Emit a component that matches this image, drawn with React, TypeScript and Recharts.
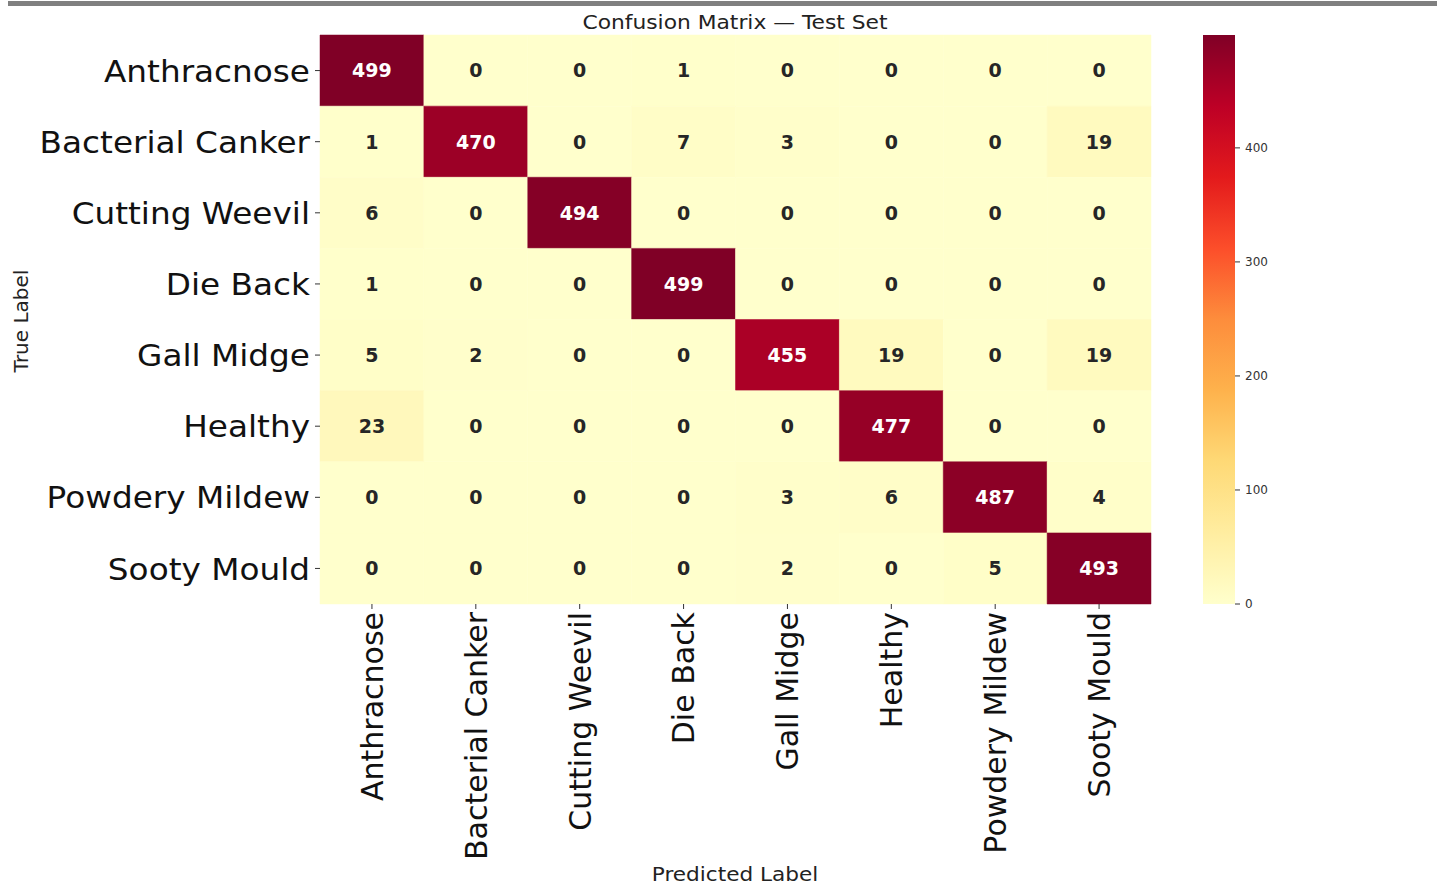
import React from "react";
import {
  Bar,
  BarChart,
  ReferenceArea,
  Scatter,
  ScatterChart,
  XAxis,
  YAxis,
} from "recharts";

const CLASSES = [
  "Anthracnose",
  "Bacterial Canker",
  "Cutting Weevil",
  "Die Back",
  "Gall Midge",
  "Healthy",
  "Powdery Mildew",
  "Sooty Mould",
];

// rows = true label, columns = predicted label
const ROW_ANTHRACNOSE = [499, 0, 0, 1, 0, 0, 0, 0];
const ROW_BACTERIAL_CANKER = [1, 470, 0, 7, 3, 0, 0, 19];
const ROW_CUTTING_WEEVIL = [6, 0, 494, 0, 0, 0, 0, 0];
const ROW_DIE_BACK = [1, 0, 0, 499, 0, 0, 0, 0];
const ROW_GALL_MIDGE = [5, 2, 0, 0, 455, 19, 0, 19];
const ROW_HEALTHY = [23, 0, 0, 0, 0, 477, 0, 0];
const ROW_POWDERY_MILDEW = [0, 0, 0, 0, 3, 6, 487, 4];
const ROW_SOOTY_MOULD = [0, 0, 0, 0, 2, 0, 5, 493];

const MATRIX = [
  ROW_ANTHRACNOSE,
  ROW_BACTERIAL_CANKER,
  ROW_CUTTING_WEEVIL,
  ROW_DIE_BACK,
  ROW_GALL_MIDGE,
  ROW_HEALTHY,
  ROW_POWDERY_MILDEW,
  ROW_SOOTY_MOULD,
];

const CBAR_TICKS = [0, 100, 200, 300, 400];
const VMAX = 499;

const YLORRD = [
  "#ffffcc",
  "#ffeda0",
  "#fed976",
  "#feb24c",
  "#fd8d3c",
  "#fc4e2a",
  "#e31a1c",
  "#bd0026",
  "#800026",
];

const FONT = "'DejaVu Sans', Verdana, sans-serif";

const hexToRgb = (h: string) => [
  parseInt(h.slice(1, 3), 16),
  parseInt(h.slice(3, 5), 16),
  parseInt(h.slice(5, 7), 16),
];

function cmapRgb(v: number) {
  const t = Math.max(0, Math.min(1, v / VMAX));
  const pos = t * (YLORRD.length - 1);
  const i = Math.min(Math.floor(pos), YLORRD.length - 2);
  const f = pos - i;
  const a = hexToRgb(YLORRD[i]);
  const b = hexToRgb(YLORRD[i + 1]);
  return a.map((c, k) => Math.round(c + (b[k] - c) * f));
}

const cmap = (v: number) => {
  const [r, g, b] = cmapRgb(v);
  return `rgb(${r},${g},${b})`;
};

// seaborn-style text colour choice
function textColor(v: number) {
  const lin = cmapRgb(v).map((c) => {
    const s = c / 255;
    return s <= 0.03928 ? s / 12.92 : Math.pow((s + 0.055) / 1.055, 2.4);
  });
  const lum = 0.2126 * lin[0] + 0.7152 * lin[1] + 0.0722 * lin[2];
  return lum > 0.408 ? "#262626" : "#ffffff";
}

const cells = MATRIX.flatMap((row, i) =>
  row.map((v, j) => ({ x: j + 0.5, y: i + 0.5, row: i, col: j, v }))
);

const centers = CLASSES.map((_, i) => i + 0.5);

function YTick({ x, y, payload }: any) {
  return (
    <text
      transform={`translate(${x - 2},${y}) scale(1.055,1)`}
      dy="0.36em"
      textAnchor="end"
      fontSize={31}
      fontFamily={FONT}
      fill="#111"
    >
      {CLASSES[Math.floor(payload.value)]}
    </text>
  );
}

function XTick({ x, y, payload }: any) {
  return (
    <text
      transform={`translate(${x},${y}) rotate(-90)`}
      dy="0.36em"
      textAnchor="end"
      fontSize={30}
      fontFamily={FONT}
      fill="#111"
    >
      {CLASSES[Math.floor(payload.value)]}
    </text>
  );
}

function CellLabel({ cx, cy, payload }: any) {
  return (
    <text
      x={cx}
      y={cy}
      dy="0.36em"
      textAnchor="middle"
      fontSize={19}
      fontWeight="bold"
      fontFamily={FONT}
      fill={textColor(payload.v)}
    >
      {payload.v}
    </text>
  );
}

export default function App() {
  return (
    <div
      style={{
        position: "absolute",
        left: 0,
        top: 0,
        width: 1443,
        height: 886,
        background: "#fff",
      }}
    >
      <div style={{ position: "absolute", left: 0, top: 0 }}>
        <ScatterChart
          width={1443}
          height={886}
          margin={{ top: 35, left: 10, right: 292, bottom: 10 }}
        >
          <XAxis
            type="number"
            dataKey="x"
            domain={[0, 8]}
            ticks={centers}
            interval={0}
            height={272}
            tickSize={5}
            tickMargin={3}
            axisLine={false}
            tickLine={{ stroke: "#333" }}
            tick={<XTick />}
          />
          <YAxis
            type="number"
            dataKey="y"
            domain={[0, 8]}
            reversed
            ticks={centers}
            interval={0}
            width={310}
            tickSize={5}
            tickMargin={3}
            axisLine={false}
            tickLine={{ stroke: "#333" }}
            tick={<YTick />}
          />
          {cells.map((c) => (
            <ReferenceArea
              key={`${c.row}-${c.col}`}
              x1={c.col}
              x2={c.col + 1}
              y1={c.row}
              y2={c.row + 1}
              fill={cmap(c.v)}
              fillOpacity={1}
              stroke={cmap(c.v)}
              strokeWidth={0.5}
              ifOverflow="visible"
            />
          ))}
          <Scatter
            data={cells}
            isAnimationActive={false}
            shape={<CellLabel />}
          />
        </ScatterChart>
      </div>

      <div style={{ position: "absolute", left: 1203, top: 25 }}>
        <BarChart
          width={90}
          height={589}
          data={[{ name: "cbar", v: VMAX }]}
          margin={{ top: 10, bottom: 10, left: 0, right: 0 }}
          barCategoryGap={0}
        >
          <defs>
            <linearGradient id="cbGrad" x1="0" y1="1" x2="0" y2="0">
              {YLORRD.map((c, i) => (
                <stop
                  key={c}
                  offset={`${(i / (YLORRD.length - 1)) * 100}%`}
                  stopColor={c}
                />
              ))}
            </linearGradient>
          </defs>
          <XAxis dataKey="name" hide />
          <YAxis
            orientation="right"
            domain={[0, VMAX]}
            ticks={CBAR_TICKS}
            width={58}
            tickSize={5}
            tickMargin={5}
            axisLine={false}
            tickLine={{ stroke: "#333" }}
            tick={{ fontSize: 12, fill: "#333", fontFamily: FONT, textAnchor: "start" }}
          />
          <Bar dataKey="v" fill="url(#cbGrad)" isAnimationActive={false} />
        </BarChart>
      </div>

      <svg
        width={1443}
        height={886}
        style={{ position: "absolute", left: 0, top: 0, pointerEvents: "none" }}
      >
        <rect x={8} y={1} width={1429} height={5} fill="#808080" />
        <text
          transform="translate(735,29) scale(1.09,1)"
          textAnchor="middle"
          fontSize={20}
          fontFamily={FONT}
          fill="#222"
        >
          Confusion Matrix — Test Set
        </text>
        <text
          transform="translate(28,321) rotate(-90)"
          textAnchor="middle"
          fontSize={20}
          fontFamily={FONT}
          fill="#222"
        >
          True Label
        </text>
        <text
          transform="translate(735,881) scale(1.08,1)"
          textAnchor="middle"
          fontSize={20}
          fontFamily={FONT}
          fill="#222"
        >
          Predicted Label
        </text>
      </svg>
    </div>
  );
}
